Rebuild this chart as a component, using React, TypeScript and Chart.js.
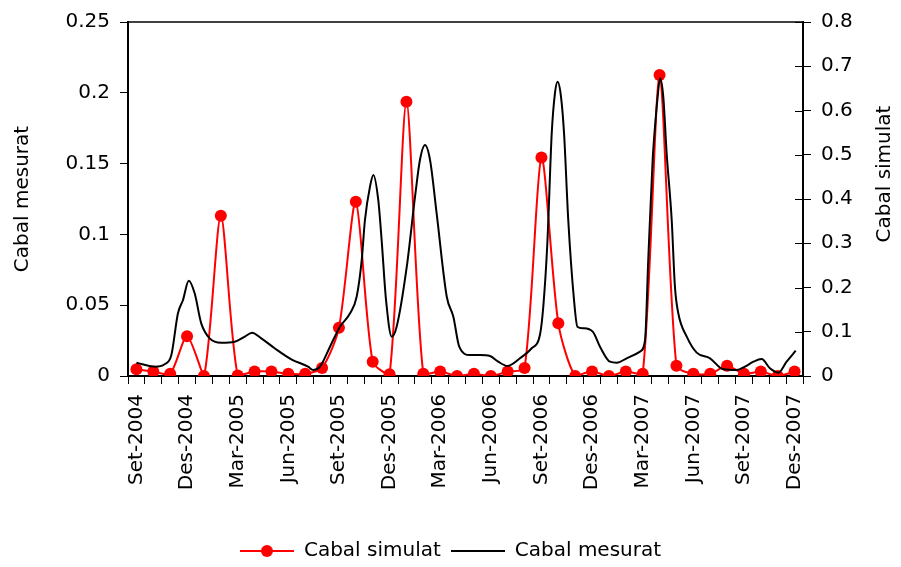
import { useEffect, useRef } from "react";
import { Chart, registerables } from "chart.js";

Chart.register(...registerables);

const FONT = "'DejaVu Sans', sans-serif";

const monthLabels = [
  "Set-2004", "Oct-2004", "Nov-2004", "Des-2004", "Gen-2005", "Feb-2005", "Mar-2005", "Abr-2005",
  "Mai-2005", "Jun-2005", "Jul-2005", "Ago-2005", "Set-2005", "Oct-2005", "Nov-2005", "Des-2005",
  "Gen-2006", "Feb-2006", "Mar-2006", "Abr-2006", "Mai-2006", "Jun-2006", "Jul-2006", "Ago-2006",
  "Set-2006", "Oct-2006", "Nov-2006", "Des-2006", "Gen-2007", "Feb-2007", "Mar-2007", "Abr-2007",
  "Mai-2007", "Jun-2007", "Jul-2007", "Ago-2007", "Set-2007", "Oct-2007", "Nov-2007", "Des-2007",
];

// Cabal simulat (right axis), one value per month
const simulatValues = [
  0.015, 0.010, 0.005, 0.090, 0.000, 0.362, 0.001, 0.010,
  0.010, 0.005, 0.005, 0.018, 0.109, 0.394, 0.032, 0.004,
  0.620, 0.005, 0.010, 0.000, 0.005, 0.000, 0.010, 0.018,
  0.494, 0.119, 0.000, 0.010, 0.000, 0.010, 0.005, 0.680,
  0.023, 0.005, 0.005, 0.023, 0.005, 0.010, 0.000, 0.010,
];

// Cabal mesurat (left axis): time in months since Set-2004, and values
const mesuratTime = [
  0, 1.08, 1.67, 2.07, 2.46, 2.76, 3.10, 3.45, 3.84, 4.34,
  5.03, 5.82, 6.42, 6.85, 7.40, 8.19, 9.18, 10.17, 10.48, 10.88,
  11.47, 12.06, 12.66, 13.05, 13.35, 13.54, 13.84, 14.04, 14.33, 14.53,
  14.79, 15.13, 15.42, 16.02, 16.51, 16.80, 17.10, 17.40, 17.79, 18.39,
  18.78, 19.13, 19.77, 20.36, 20.95, 21.44, 21.98, 22.73, 23.42, 23.91,
  24.11, 24.35, 24.61, 24.80, 24.96, 25.16, 25.34, 25.59, 25.93, 26.13,
  26.48, 27.04, 27.47, 28.06, 28.46, 29.05, 29.84, 30.14, 30.33, 30.59,
  30.73, 30.87, 31.03, 31.22, 31.42, 31.72, 31.91, 32.11, 32.61, 33.20,
  33.99, 34.78, 35.57, 36.06, 36.56, 37.05, 37.54, 38.04, 38.53, 39.07,
];
const mesuratValues = [
  0.0094, 0.0066, 0.0083, 0.0148, 0.0443, 0.0537, 0.0673, 0.0584, 0.0372, 0.0266,
  0.0235, 0.0242, 0.0278, 0.0306, 0.0266, 0.0196, 0.0118, 0.0066, 0.0042, 0.0066,
  0.0207, 0.0348, 0.0443, 0.0560, 0.0819, 0.1100, 0.1337, 0.1420, 0.1243, 0.0960,
  0.0537, 0.0278, 0.0348, 0.0772, 0.1266, 0.1525, 0.1631, 0.1525, 0.1149, 0.0560,
  0.0419, 0.0207, 0.0148, 0.0148, 0.0141, 0.0101, 0.0071, 0.0125, 0.0196, 0.0290,
  0.0490, 0.0937, 0.1714, 0.1996, 0.2078, 0.1972, 0.1714, 0.1100, 0.0537, 0.0348,
  0.0337, 0.0313, 0.0207, 0.0101, 0.0094, 0.0125, 0.0172, 0.0254, 0.0819, 0.1525,
  0.1761, 0.1949, 0.2102, 0.1972, 0.1573, 0.1100, 0.0631, 0.0443, 0.0278, 0.0165,
  0.0125, 0.0047, 0.0042, 0.0066, 0.0101, 0.0120, 0.0054, 0.0023, 0.0101, 0.0179,
];

const leftTicks = [0, 0.05, 0.1, 0.15, 0.2, 0.25];
const rightTicks = [0, 0.1, 0.2, 0.3, 0.4, 0.5, 0.6, 0.7, 0.8];
const labelEvery = 3;

const seriesNames = ["Cabal simulat", "Cabal mesurat"];
const leftTitle = "Cabal mesurat";
const rightTitle = "Cabal simulat";

function makeLegendSymbol(color: string, withMarker: boolean): HTMLCanvasElement {
  const c = document.createElement("canvas");
  c.width = 54;
  c.height = 14;
  const g = c.getContext("2d")!;
  g.strokeStyle = color;
  g.lineWidth = 2;
  g.beginPath();
  g.moveTo(0, 7);
  g.lineTo(54, 7);
  g.stroke();
  if (withMarker) {
    g.fillStyle = color;
    g.beginPath();
    g.arc(27, 7, 6, 0, Math.PI * 2);
    g.fill();
  }
  return c;
}

const framePlugin = {
  id: "frame",
  afterDraw(chart: any) {
    const { ctx, chartArea: a } = chart;
    ctx.save();
    ctx.strokeStyle = "#000";
    ctx.lineWidth = 1.5;
    ctx.beginPath();
    ctx.moveTo(a.left, a.top);
    ctx.lineTo(a.right, a.top);
    ctx.stroke();
    const y2 = chart.scales.y2;
    ctx.lineWidth = 1;
    ctx.beginPath();
    rightTicks.forEach((v) => {
      const py = Math.round(y2.getPixelForValue(v)) + 0.5;
      ctx.moveTo(a.right - 8, py);
      ctx.lineTo(a.right, py);
    });
    ctx.stroke();
    ctx.font = `20px ${FONT}`;
    ctx.fillStyle = "#000";
    ctx.textAlign = "center";
    ctx.textBaseline = "middle";
    ctx.translate(chart.width - 16, a.top + 152);
    ctx.rotate(-Math.PI / 2);
    ctx.fillText(rightTitle, 0, 0);
    ctx.restore();
  },
};

export default function App() {
  const ref = useRef<HTMLCanvasElement | null>(null);

  useEffect(() => {
    document.body.style.margin = "0";
    if (!ref.current) return;
    const redSym = makeLegendSymbol("#ff0000", true);
    const blackSym = makeLegendSymbol("#000000", false);

    const chart = new Chart(ref.current, {
      type: "line",
      data: {
        datasets: [
          {
            label: seriesNames[0],
            data: simulatValues.map((v, i) => ({ x: i, y: v })),
            yAxisID: "y2",
            borderColor: "#ff0000",
            backgroundColor: "#ff0000",
            borderWidth: 2,
            pointRadius: 6,
            pointHoverRadius: 6,
            pointBorderWidth: 0,
            pointBackgroundColor: "#ff0000",
            tension: 0.25,
            order: 1,
          },
          {
            label: seriesNames[1],
            data: mesuratTime.map((t, i) => ({ x: t, y: mesuratValues[i] })),
            yAxisID: "y",
            borderColor: "#000000",
            backgroundColor: "#000000",
            borderWidth: 2,
            pointRadius: 0,
            cubicInterpolationMode: "monotone",
            order: 0,
          },
        ],
      },
      options: {
        animation: false,
        responsive: false,
        maintainAspectRatio: false,
        parsing: false as any,
        layout: { padding: { top: 22, bottom: -4, left: 0, right: 0 } },
        plugins: {
          tooltip: { enabled: false },
          legend: {
            position: "bottom",
            labels: {
              usePointStyle: true,
              pointStyleWidth: 54,
              padding: 10,
              color: "#000",
              font: { family: FONT, size: 20 },
              generateLabels: () => [
                { text: seriesNames[0], pointStyle: redSym as any, datasetIndex: 0, hidden: false, fillStyle: "#ff0000", strokeStyle: "#ff0000", lineWidth: 0, fontColor: "#000" },
                { text: seriesNames[1], pointStyle: blackSym as any, datasetIndex: 1, hidden: false, fillStyle: "#000", strokeStyle: "#000", lineWidth: 0, fontColor: "#000" },
              ],
            },
          },
        },
        scales: {
          x: {
            type: "linear",
            min: -0.5,
            max: monthLabels.length - 0.5,
            afterBuildTicks: (s: any) => {
              const arr: any[] = [];
              for (let k = 0; k <= monthLabels.length * 2; k++) arr.push({ value: -0.5 + k * 0.5 });
              s.ticks = arr;
            },
            afterFit: (s: any) => {
              s.height = 155;
            },
            ticks: {
              autoSkip: false,
              minRotation: 90,
              maxRotation: 90,
              padding: 10,
              color: "#000",
              font: { family: FONT, size: 20 },
              callback: (value: any) =>
                Number.isInteger(value) && value % labelEvery === 0 ? monthLabels[value] : "",
            },
            grid: {
              drawOnChartArea: false,
              tickLength: 8,
              tickWidth: 1,
              tickColor: (c: any) => (c.tick && Number.isInteger(c.tick.value) ? "rgba(0,0,0,0)" : "#000"),
            },
            border: { display: true, color: "#000", width: 2 },
          },
          y: {
            type: "linear",
            position: "left",
            min: 0,
            max: 0.25,
            afterBuildTicks: (s: any) => {
              s.ticks = leftTicks.map((v) => ({ value: v }));
            },
            afterFit: (s: any) => {
              s.width = 128;
            },
            ticks: {
              padding: 10,
              color: "#000",
              font: { family: FONT, size: 20 },
              callback: (v: any) => String(v),
            },
            grid: { drawOnChartArea: false, tickLength: 8, color: "#000" },
            border: { display: true, color: "#000", width: 2 },
            title: {
              display: true,
              text: leftTitle,
              color: "#000",
              font: { family: FONT, size: 20 },
              padding: { top: 11, bottom: 0 },
            },
          },
          y2: {
            type: "linear",
            position: "right",
            min: 0,
            max: 0.8,
            afterBuildTicks: (s: any) => {
              s.ticks = rightTicks.map((v) => ({ value: v }));
            },
            afterFit: (s: any) => {
              s.width = 98;
            },
            ticks: {
              padding: 10,
              color: "#000",
              font: { family: FONT, size: 20 },
              callback: (v: any) => String(v),
            },
            grid: { drawOnChartArea: false, tickLength: 8, color: "#000" },
            border: { display: true, color: "#000", width: 2 },
          },
        },
      },
      plugins: [framePlugin],
    });
    return () => chart.destroy();
  }, []);

  return (
    <div style={{ width: 901, height: 567 }}>
      <canvas ref={ref} width={901} height={567} style={{ display: "block" }} />
    </div>
  );
}
